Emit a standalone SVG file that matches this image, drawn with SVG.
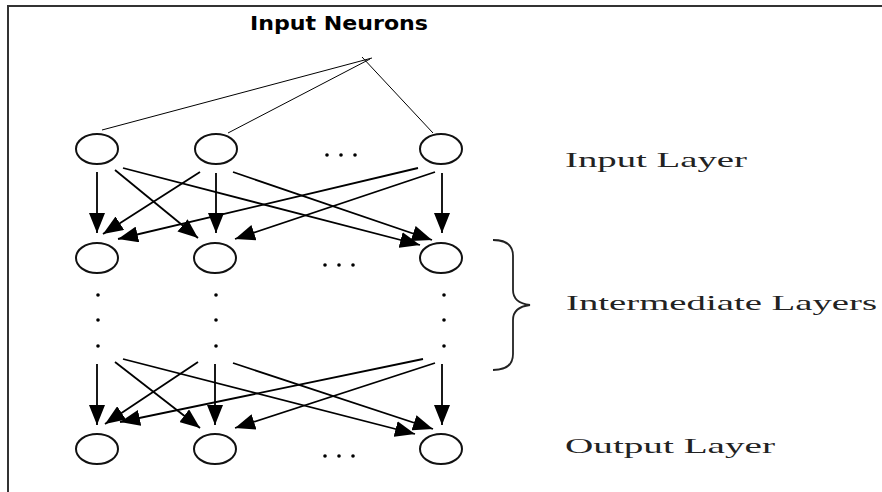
<svg xmlns="http://www.w3.org/2000/svg" width="882" height="492" viewBox="0 0 882 492">
<style>
.node{fill:#fff;stroke:#111;stroke-width:2}
.edge{stroke:#000;stroke-width:1.8;fill:none}
.ptr{stroke:#000;stroke-width:1;fill:none}
.dot{fill:#000}
.lbl{font-family:"Liberation Serif","DejaVu Serif",serif;font-size:22px;fill:#222}
.title{font-family:"DejaVu Sans","Verdana",sans-serif;font-weight:bold;font-size:20px;fill:#000}
</style>
<defs>
<marker id="ah" markerUnits="userSpaceOnUse" markerWidth="20" markerHeight="16" viewBox="0 0 20 16" refX="20" refY="8" orient="auto">
<path d="M0,0 L20,8 L0,16 Z" fill="#000"/>
</marker>
</defs>
<rect width="882" height="492" fill="#fff"/>
<path d="M8,492 L8,6 L882,6" fill="none" stroke="#333" stroke-width="2"/>
<text class="title" x="250" y="30" textLength="178" lengthAdjust="spacingAndGlyphs">Input Neurons</text>
<g id="pointers">
<line class="ptr" x1="102" y1="130" x2="372" y2="58"/>
<line class="ptr" x1="228" y1="133" x2="370" y2="59"/>
<line class="ptr" x1="433" y1="133" x2="362" y2="57"/>
</g>
<g id="connectors">
<line class="edge" x1="97" y1="172" x2="97" y2="233" marker-end="url(#ah)"/>
<line class="edge" x1="115" y1="170" x2="198" y2="238" marker-end="url(#ah)"/>
<line class="edge" x1="123" y1="168" x2="420" y2="245" marker-end="url(#ah)"/>
<line class="edge" x1="200" y1="172" x2="103" y2="234" marker-end="url(#ah)"/>
<line class="edge" x1="216" y1="173" x2="216" y2="233" marker-end="url(#ah)"/>
<line class="edge" x1="233" y1="172" x2="432" y2="240" marker-end="url(#ah)"/>
<line class="edge" x1="418" y1="168" x2="118" y2="239" marker-end="url(#ah)"/>
<line class="edge" x1="435" y1="172" x2="235" y2="239" marker-end="url(#ah)"/>
<line class="edge" x1="442" y1="173" x2="442" y2="233" marker-end="url(#ah)"/>
<line class="edge" x1="97" y1="364" x2="97" y2="425" marker-end="url(#ah)"/>
<line class="edge" x1="115" y1="362" x2="200" y2="428" marker-end="url(#ah)"/>
<line class="edge" x1="123" y1="359" x2="415" y2="434" marker-end="url(#ah)"/>
<line class="edge" x1="198" y1="362" x2="105" y2="424" marker-end="url(#ah)"/>
<line class="edge" x1="215" y1="364" x2="215" y2="425" marker-end="url(#ah)"/>
<line class="edge" x1="233" y1="363" x2="433" y2="429" marker-end="url(#ah)"/>
<line class="edge" x1="423" y1="359" x2="120" y2="422" marker-end="url(#ah)"/>
<line class="edge" x1="435" y1="363" x2="235" y2="428" marker-end="url(#ah)"/>
<line class="edge" x1="442" y1="364" x2="442" y2="425" marker-end="url(#ah)"/>
</g>
<g id="in1"><ellipse class="node" cx="97" cy="149" rx="21" ry="15"/></g>
<g id="in2"><ellipse class="node" cx="216" cy="149" rx="21" ry="15"/></g>
<g id="in3"><ellipse class="node" cx="441" cy="149" rx="21" ry="15"/></g>
<g id="mid1"><ellipse class="node" cx="97" cy="258" rx="21" ry="15"/></g>
<g id="mid2"><ellipse class="node" cx="215" cy="258" rx="21" ry="15"/></g>
<g id="mid3"><ellipse class="node" cx="441" cy="258" rx="21" ry="15"/></g>
<g id="out1"><ellipse class="node" cx="97" cy="449" rx="21" ry="15"/></g>
<g id="out2"><ellipse class="node" cx="215" cy="449" rx="21" ry="15"/></g>
<g id="out3"><ellipse class="node" cx="441" cy="449" rx="21" ry="15"/></g>
<g id="ellipses">
<circle class="dot" cx="327" cy="155" r="1.8"/><circle class="dot" cx="341" cy="155" r="1.8"/><circle class="dot" cx="355" cy="155" r="1.8"/>
<circle class="dot" cx="325" cy="265" r="1.8"/><circle class="dot" cx="339" cy="265" r="1.8"/><circle class="dot" cx="353" cy="265" r="1.8"/>
<circle class="dot" cx="325" cy="456" r="1.8"/><circle class="dot" cx="339" cy="456" r="1.8"/><circle class="dot" cx="353" cy="456" r="1.8"/>
<circle class="dot" cx="98" cy="295" r="1.8"/><circle class="dot" cx="98" cy="320" r="1.8"/><circle class="dot" cx="98" cy="346" r="1.8"/>
<circle class="dot" cx="216" cy="295" r="1.8"/><circle class="dot" cx="216" cy="320" r="1.8"/><circle class="dot" cx="216" cy="346" r="1.8"/>
<circle class="dot" cx="444" cy="295" r="1.8"/><circle class="dot" cx="444" cy="320" r="1.8"/><circle class="dot" cx="444" cy="346" r="1.8"/>
</g>
<path d="M493,240 Q513,240 513,256 L513,290 Q513,303 530,305 Q513,307 513,320 L513,354 Q513,370 493,370" fill="none" stroke="#222" stroke-width="1.8"/>
<text class="lbl" x="565" y="167" textLength="182" lengthAdjust="spacingAndGlyphs">Input Layer</text>
<text class="lbl" x="566" y="310" textLength="311" lengthAdjust="spacingAndGlyphs">Intermediate Layers</text>
<text class="lbl" x="565" y="453" textLength="210" lengthAdjust="spacingAndGlyphs">Output Layer</text>
</svg>
